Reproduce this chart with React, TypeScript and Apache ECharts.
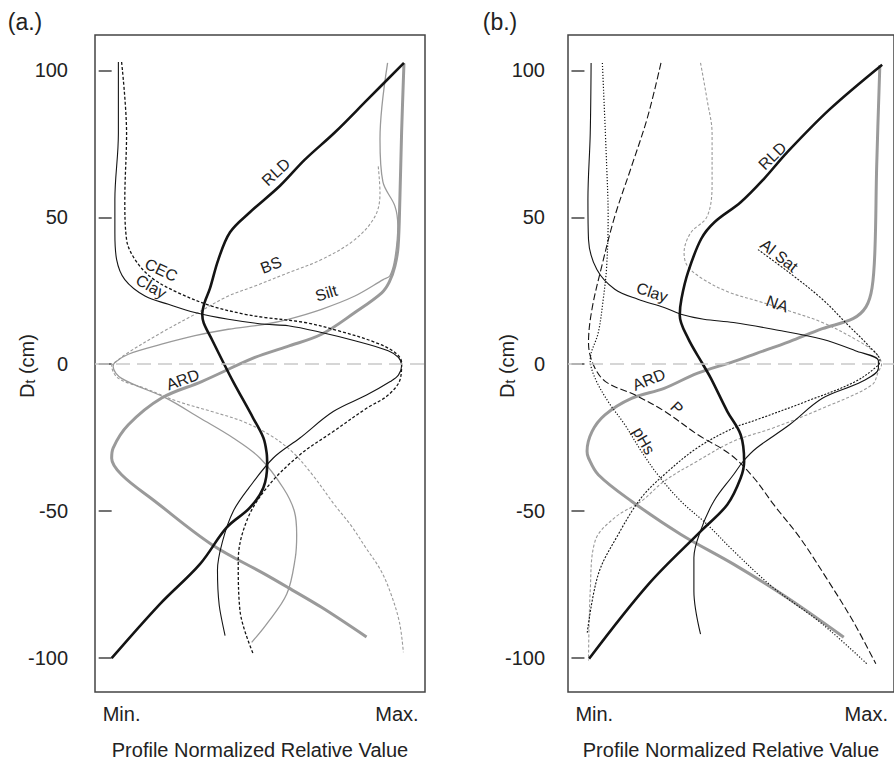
import React, { useEffect, useRef } from "react";
import * as echarts from "echarts";

const FONT = '"Liberation Sans", Arial, Helvetica, sans-serif';

// ---------- Tick labels ----------
const yTickValues = [-100, -50, 0, 50, 100];
const xTickValues = [0.034, 0.976];
const xTickLabels = ["Min.", "Max."];

// ---------- Panel (a.) ----------
const rldA = [[0,-100],[0.165,-81.6],[0.302,-68],[0.393,-55.6],[0.473,-48.8],[0.519,-42],[0.532,-34],[0.53,-30],[0.519,-25],[0.484,-18.3],[0.416,-6],[0.385,0],[0.345,8],[0.315,14],[0.31,17],[0.318,21],[0.336,25.7],[0.365,35.6],[0.405,44.9],[0.473,51.7],[0.576,60.7],[0.66,69.5],[0.765,79],[0.875,90],[1.0,102.5]];
const ardA = [[1.0,102.3],[0.992,79],[0.986,56],[0.98,40],[0.969,33.4],[0.95,28],[0.924,24.3],[0.832,17.6],[0.718,10.2],[0.6,6],[0.49,2.3],[0.308,-5.9],[0.171,-11.5],[0.057,-20.6],[0.005,-28.5],[0,-32],[0.034,-37.6],[0.148,-46.6],[0.342,-61.3],[0.524,-71.4],[0.604,-76],[0.718,-82.7],[0.872,-92.8]];
const siltA = [[0.944,102.5],[0.918,76.5],[0.928,62],[0.969,53.8],[0.979,47.1],[0.969,35.9],[0.952,30.1],[0.929,28.8],[0.832,23.2],[0.718,18.7],[0.604,15.3],[0.524,13.6],[0.399,11.9],[0.285,9.7],[0.171,6.8],[0.057,3.4],[0.011,0.6],[0.005,-0.8],[0.034,-4.8],[0.188,-11.6],[0.302,-18.3],[0.416,-25.1],[0.507,-31.9],[0.587,-42.1],[0.625,-50],[0.633,-58],[0.628,-66],[0.599,-78.2],[0.53,-88.4],[0.479,-94.6]];
const bsA = [[0.912,67.3],[0.918,58.2],[0.901,50.3],[0.832,42.4],[0.718,35.6],[0.604,31.1],[0.49,26.6],[0.399,23.2],[0.285,17],[0.171,10.8],[0.057,4],[0.011,0.6],[0,-0.5],[0.023,-4.8],[0.114,-8.2],[0.228,-12.7],[0.35,-16.3],[0.45,-19.5],[0.54,-24],[0.62,-30],[0.69,-38],[0.76,-47.5],[0.82,-55],[0.87,-62.5],[0.92,-70],[0.955,-78],[0.985,-88],[0.998,-98]];
const clayA = [[0.023,102.8],[0.023,78.5],[0.011,56],[0.011,44.7],[0.017,35.6],[0.045,28.8],[0.114,23.2],[0.194,20.4],[0.285,17.6],[0.399,15.3],[0.524,13.6],[0.604,13.1],[0.718,10.8],[0.832,8],[0.946,4.6],[0.981,2.3],[0.992,-0.5],[0.981,-3.7],[0.953,-5.9],[0.872,-10.5],[0.758,-16.1],[0.644,-25.1],[0.553,-31.9],[0.47,-42],[0.416,-50],[0.38,-60],[0.362,-70],[0.368,-82],[0.388,-92.3]];
const cecA = [[0.034,102.8],[0.051,78.5],[0.045,56],[0.051,42.4],[0.08,35.6],[0.137,29.4],[0.228,24.3],[0.342,19.8],[0.456,17],[0.524,15.9],[0.661,14.2],[0.775,11.4],[0.9,7.5],[0.969,4],[0.992,0.6],[0.988,-4.8],[0.946,-10.5],[0.872,-15],[0.758,-22.9],[0.644,-30.8],[0.53,-42.1],[0.462,-53.3],[0.433,-66.9],[0.439,-83.8],[0.484,-98.5]];

// ---------- Panel (b.) ----------
const rldB = [[0.016,-100.2],[0.222,-74.8],[0.404,-56.7],[0.495,-47.7],[0.541,-38.7],[0.553,-33],[0.541,-24],[0.495,-16.1],[0.438,-4.8],[0.41,0],[0.359,8.8],[0.33,16.7],[0.336,22.3],[0.359,31.4],[0.404,42.6],[0.45,48.3],[0.541,55.1],[0.621,63],[0.701,72],[0.849,86.7],[1.031,101.9]];
const ardB = [[1.023,101.7],[1.012,67.3],[1.006,39],[0.996,26],[0.975,19.5],[0.93,15.5],[0.824,12.1],[0.71,7.7],[0.596,3.7],[0.516,0.9],[0.39,-3.1],[0.276,-8.2],[0.163,-11.6],[0.071,-17.2],[0.026,-22.9],[0.009,-29.6],[0.014,-31.9],[0.048,-37.6],[0.163,-46.6],[0.334,-57.9],[0.516,-68],[0.7,-79.3],[0.898,-92.9]];
const clayB = [[0.023,102.5],[0.02,78.5],[0.012,56],[0.014,42.4],[0.043,32.2],[0.105,25.5],[0.185,22.1],[0.276,19.3],[0.334,17],[0.413,15.3],[0.516,14.2],[0.653,11.9],[0.824,8.5],[0.938,4.6],[1.018,1.2],[1.018,-1.4],[0.961,-5.9],[0.824,-11.6],[0.71,-20.6],[0.596,-28.5],[0.55,-33],[0.516,-37.6],[0.448,-46.6],[0.402,-56.7],[0.379,-65.8],[0.379,-77.1],[0.402,-91.8]];
const naB = [[0.402,102.5],[0.425,89.8],[0.442,78.5],[0.442,61.6],[0.425,50.3],[0.368,44.7],[0.345,37.9],[0.357,33.4],[0.413,28.8],[0.5,24.5],[0.6,21.5],[0.71,18.1],[0.824,14.2],[0.938,8.5],[1.006,4],[1.029,0],[1.018,-2.5],[0.995,-7.1],[0.824,-15],[0.653,-21.7],[0.516,-26.2],[0.39,-33],[0.276,-39.8],[0.197,-46.6],[0.105,-52.2],[0.037,-60.1],[0.02,-77.1],[0.014,-100.8]];
const alSatB = [[0.601,39],[0.71,31.1],[0.824,22.1],[0.915,13.1],[0.984,6.3],[1.023,1.2],[1.018,-0.3],[0.938,-5.9],[0.767,-12.7],[0.596,-18.9],[0.516,-21.7],[0.39,-28.5],[0.276,-37.6],[0.197,-45.4],[0.117,-57.9],[0.048,-71.4],[0.009,-91.8]];
const pHsB = [[0.062,102.5],[0.077,67.3],[0.082,50.3],[0.077,33.4],[0.065,22.1],[0.048,10.8],[0.02,1.5],[0.037,-4.8],[0.082,-12.7],[0.14,-20.6],[0.197,-29.6],[0.254,-37.6],[0.334,-46.6],[0.425,-54.5],[0.516,-63.5],[0.653,-75.9],[0.824,-88.4],[0.978,-101.9]];
const pB = [[0.265,102.5],[0.219,84.2],[0.163,67.3],[0.105,50.3],[0.06,33.4],[0.026,18.7],[0.014,7.4],[0.03,0],[0.073,-5.9],[0.176,-10.5],[0.279,-16.1],[0.393,-24],[0.507,-30.8],[0.587,-38.7],[0.655,-47.7],[0.746,-59],[0.837,-72.6],[0.929,-87.2],[1.009,-101.9]];

// ---------- Curve annotations (text, anchor x, anchor y, angle) ----------
const annotationsA: [string, number, number, number][] = [
  ["RLD", 0.564, 65.2, 43],
  ["CEC", 0.171, 31.9, -25],
  ["Clay", 0.137, 26.3, -30],
  ["BS", 0.547, 33.6, 21],
  ["Silt", 0.736, 24, 17],
  ["ARD", 0.245, -5.4, 20],
];
const annotationsB: [string, number, number, number][] = [
  ["RLD", 0.653, 70.7, 45],
  ["Al Sat", 0.676, 36.8, -38],
  ["NA", 0.67, 20.4, -20],
  ["Clay", 0.236, 24.3, -18],
  ["ARD", 0.225, -5.4, 22],
  ["P", 0.322, -15, -45],
  ["pHs", 0.208, -26.2, -60],
];

const BLACK = "#141414";
const GRAY = "#9a9a9a";
const TEXT = "#222222";

const styles: Record<string, any> = {
  RLD: { color: BLACK, width: 2.6 },
  ARD: { color: GRAY, width: 3 },
  Clay: { color: BLACK, width: 1.1 },
  CEC: { color: BLACK, width: 1.3, type: [3, 2] },
  BS: { color: GRAY, width: 1.1, type: [3, 2] },
  Silt: { color: GRAY, width: 1.3 },
  NA: { color: GRAY, width: 1.1, type: [3, 2] },
  "Al Sat": { color: BLACK, width: 1.1, type: [2, 1.5] },
  pHs: { color: BLACK, width: 1.2, type: [1.2, 1.8] },
  P: { color: BLACK, width: 1.1, type: [7, 3] },
};

function curve(name: string, data: number[][], panel: number, extra: any = {}) {
  return {
    type: "line",
    name,
    xAxisIndex: panel,
    yAxisIndex: panel,
    data,
    symbol: "none",
    smooth: 0.35,
    lineStyle: styles[name],
    silent: true,
    ...extra,
  };
}

const zeroLine = {
  markLine: {
    silent: true,
    symbol: ["none", "none"],
    label: { show: false },
    lineStyle: { color: "#c9c9c9", width: 1.5, type: [14, 7] },
    data: [{ yAxis: 0 }],
  },
};

function annotationSeries(list: [string, number, number, number][], panel: number) {
  const labelStyle = {
    show: true,
    position: [0, 0],
    align: "center",
    verticalAlign: "middle",
    formatter: "{b}",
    color: TEXT,
    opacity: 1,
    textBorderWidth: 0,
    fontSize: 16,
    fontFamily: FONT,
  };
  return {
    type: "scatter",
    xAxisIndex: panel,
    yAxisIndex: panel,
    symbolSize: 1,
    itemStyle: { color: "#ffffff", opacity: 1 },
    silent: true,
    z: 10,
    data: list.map(([t, x, y, r]) => ({
      name: t,
      value: [x, y],
      label: { ...labelStyle, rotate: r },
    })),
    label: labelStyle,
  };
}

function xAxis(panel: number) {
  return {
    type: "value",
    gridIndex: panel,
    min: -0.057,
    max: 1.072,
    axisLine: { show: false },
    axisTick: { show: false },
    splitLine: { show: false },
    axisLabel: {
      customValues: xTickValues,
      formatter: (v: number) => {
        const i = xTickValues.findIndex((t) => Math.abs(t - v) < 1e-6);
        return i >= 0 ? xTickLabels[i] : "";
      },
      margin: 12,
      color: TEXT,
      fontSize: 20,
      fontFamily: FONT,
    },
    name: "Profile Normalized Relative Value",
    nameLocation: "middle",
    nameGap: 48,
    nameTextStyle: { color: TEXT, fontSize: 20, fontFamily: FONT },
  };
}

function yAxis(panel: number, margin: number) {
  return {
    type: "value",
    gridIndex: panel,
    min: -111.5,
    max: 112,
    axisLine: { show: false },
    splitLine: { show: false },
    axisTick: {
      show: true,
      customValues: yTickValues,
      length: 13,
      lineStyle: { color: "#444", width: 1.5 },
    },
    axisLabel: {
      customValues: yTickValues,
      margin,
      color: TEXT,
      fontSize: 20,
      fontFamily: FONT,
    },
  };
}

function yTitle(x: number) {
  return {
    type: "text",
    x,
    y: 366,
    rotation: Math.PI / 2,
    style: {
      text: "{d|D}{t|t}{c| (cm)}",
      align: "center",
      verticalAlign: "middle",
      fill: TEXT,
      font: `20px ${FONT}`,
      rich: {
        d: { fontSize: 20, fontFamily: FONT, fill: TEXT, verticalAlign: "top", lineHeight: 20 },
        t: { fontSize: 14, fontFamily: FONT, fill: TEXT, verticalAlign: "bottom", lineHeight: 14, padding: [12, 0, 0, 0] },
        c: { fontSize: 20, fontFamily: FONT, fill: TEXT, verticalAlign: "top", lineHeight: 20 },
      },
    },
  };
}

const option: any = {
  animation: false,
  backgroundColor: "#fff",
  grid: [
    { left: 95, top: 35, width: 330, height: 660, show: true, borderColor: "#444", borderWidth: 1.5, backgroundColor: "transparent" },
    { left: 568, top: 35, width: 330, height: 660, show: true, borderColor: "#444", borderWidth: 1.5, backgroundColor: "transparent" },
  ],
  xAxis: [xAxis(0), xAxis(1)],
  yAxis: [yAxis(0, 27), yAxis(1, 23)],
  graphic: [
    { type: "text", x: 25, y: 22, style: { text: "(a.)", align: "center", verticalAlign: "middle", fill: TEXT, font: `23px ${FONT}` } },
    { type: "text", x: 500, y: 22, style: { text: "(b.)", align: "center", verticalAlign: "middle", fill: TEXT, font: `23px ${FONT}` } },
    yTitle(27),
    yTitle(507),
  ],
  series: [
    curve("Silt", siltA, 0, zeroLine),
    curve("BS", bsA, 0),
    curve("ARD", ardA, 0),
    curve("Clay", clayA, 0),
    curve("CEC", cecA, 0),
    curve("RLD", rldA, 0),
    annotationSeries(annotationsA, 0),

    curve("NA", naB, 1, zeroLine),
    curve("ARD", ardB, 1),
    curve("Clay", clayB, 1),
    curve("Al Sat", alSatB, 1),
    curve("pHs", pHsB, 1),
    curve("P", pB, 1),
    curve("RLD", rldB, 1),
    annotationSeries(annotationsB, 1),
  ],
};

export default function App() {
  const ref = useRef<HTMLDivElement>(null);
  useEffect(() => {
    const chart = echarts.init(ref.current!, null, { renderer: "svg" });
    chart.setOption(option);
    return () => chart.dispose();
  }, []);
  return (
    <div
      ref={ref}
      style={{ position: "fixed", left: 0, top: 0, width: 894, height: 765, background: "#fff" }}
    />
  );
}
